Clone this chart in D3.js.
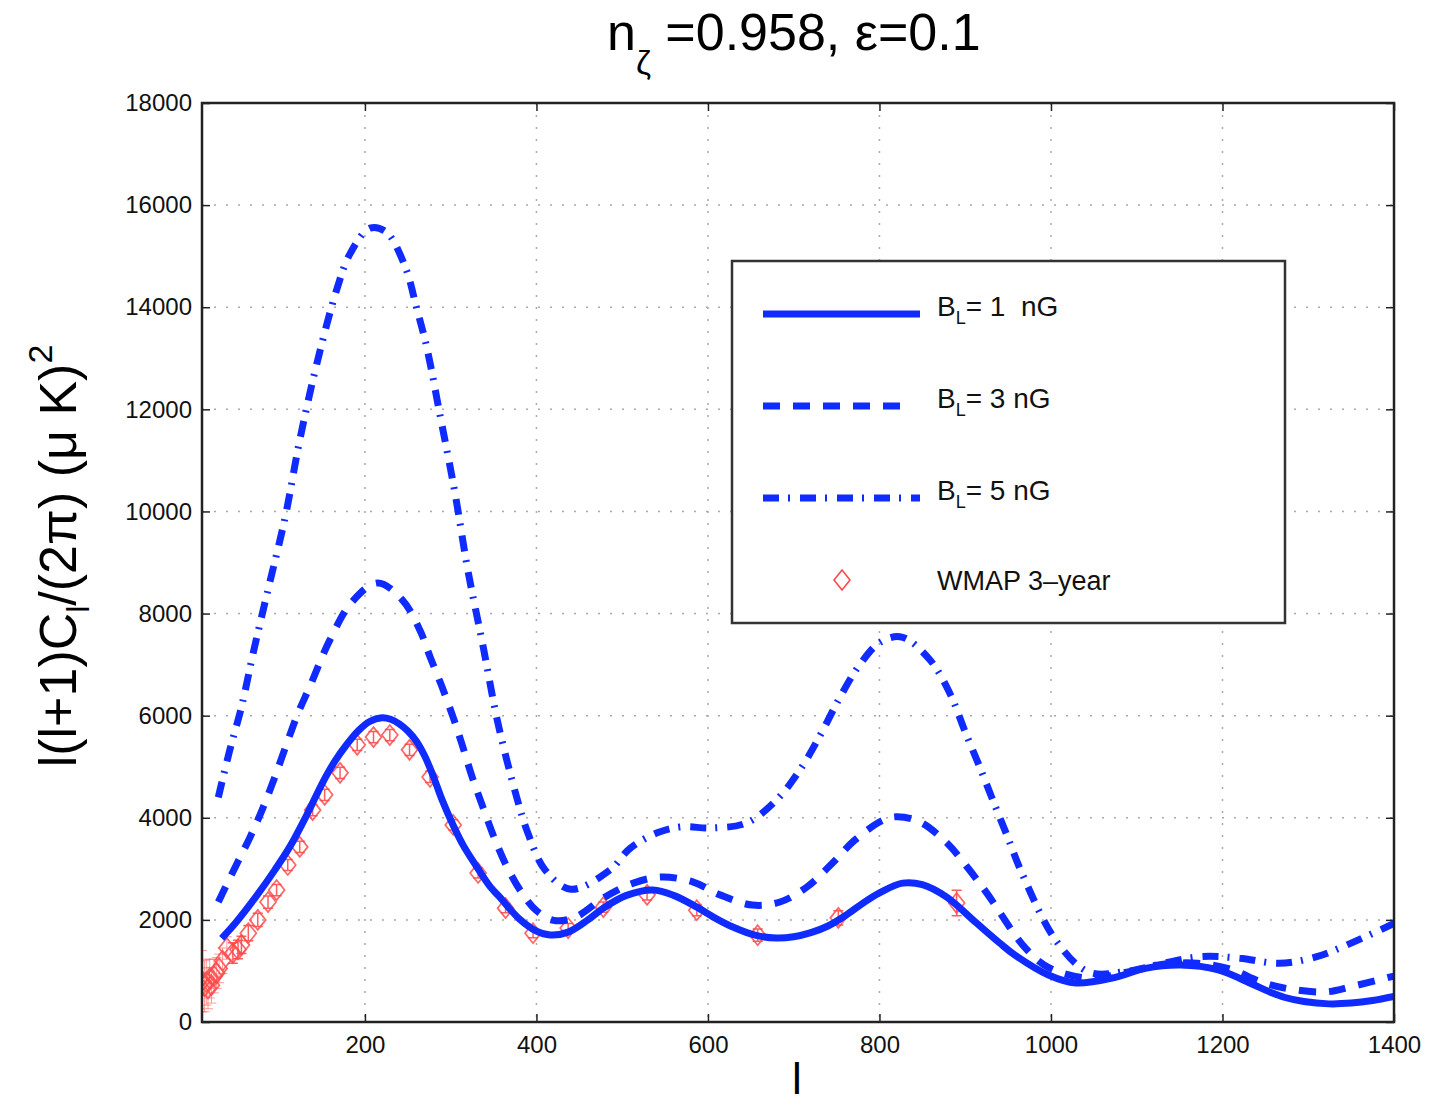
<!DOCTYPE html>
<meta charset="utf-8">
<style>
    html, body { margin: 0; padding: 0; background: #fff; }
    svg { font-family: "Liberation Sans", Arial, Helvetica, sans-serif; }
</style>
<svg id="chart" width="1430" height="1105"></svg>
<script src="https://d3js.org/d3.v7.min.js"></script>
<script>
    // curves: [l, l(l+1)C_l/2pi]
    const b1nG = [[33,1640],[50,1960],[74,2480],[95,2980],[113,3450],[132,4050],[151,4700],[165,5110],[179,5440],
        [192,5700],[205,5880],[220,5960],[230,5930],[240,5840],[250,5700],[260,5500],[270,5200],[280,4800],[290,4350],
        [303,3850],[315,3450],[330,3050],[346,2650],[357,2450],[380,2020],[400,1780],[416,1704],[437,1760],[460,2000],
        [478,2230],[505,2480],[536,2585],[560,2480],[587,2250],[610,2020],[629,1860],[655,1700],[680,1645],[700,1670],
        [720,1750],[740,1880],[760,2080],[780,2320],[800,2530],[827,2720],[850,2690],[878,2450],[913,1940],[940,1550],
        [958,1310],[997,920],[1029,764],[1076,880],[1110,1050],[1151,1116],[1195,1020],[1235,740],[1255,590],
        [1273,480],[1295,400],[1324,355],[1350,370],[1375,420],[1400,500]];

    const b3nG = [[29,2350],[34,2525],[51,3110],[66,3620],[80,4150],[95,4800],[109,5460],[122,6050],[136,6580],
        [159,7480],[185,8230],[215,8600],[244,8260],[264,7680],[276,7150],[290,6560],[303,5960],[313,5450],[325,4800],
        [338,4190],[351,3600],[365,3060],[383,2530],[400,2180],[420,1990],[445,2050],[480,2450],[513,2720],[546,2840],
        [583,2740],[614,2490],[652,2290],[684,2350],[715,2640],[745,3110],[771,3560],[804,3950],[820,4020],[847,3920],
        [879,3500],[902,3040],[925,2530],[970,1450],[998,1060],[1044,860],[1084,960],[1131,1130],[1171,1150],
        [1210,1030],[1246,780],[1281,640],[1321,590],[1352,700],[1400,900]];

    const b5nG = [[29,4400],[42,5300],[56,6170],[70,7250],[86,8400],[107,9890],[124,11400],[144,12900],[167,14340],
        [183,15060],[206,15550],[225,15470],[247,14790],[260,14000],[272,13220],[288,11850],[305,10360],[320,8850],
        [338,7340],[355,5860],[377,4400],[390,3700],[410,2980],[440,2600],[486,2980],[509,3400],[540,3700],[567,3820],
        [606,3800],[645,3900],[680,4350],[707,4930],[731,5620],[752,6300],[775,6950],[801,7440],[826,7540],[859,7090],
        [882,6440],[900,5680],[917,4990],[933,4310],[950,3600],[966,2920],[1006,1590],[1044,980],[1088,990],
        [1131,1150],[1175,1280],[1220,1250],[1266,1150],[1310,1280],[1352,1560],[1400,1930]];

    // WMAP 3-year band powers: l, value, error
    const wmapL = [10,13,15,17,19,21,24,27,30,34,39,46,52,56,64,75,87,97,110,124,139,153,171,191,210,229,252,276,
        303,332,364,396,437,478,529,587,658,752,890];
    const wmapV = [800,700,780,660,850,720,900,960,1050,1200,1450,1350,1420,1510,1740,2000,2350,2585,3075,3430,4150,
        4450,4880,5430,5580,5620,5330,4800,3860,2920,2230,1740,1840,2250,2490,2190,1700,2040,2330];
    const wmapErr = [600,500,450,400,380,350,330,300,280,250,220,200,180,170,150,130,120,110,110,110,110,110,110,110,
        110,110,110,110,100,100,90,90,90,100,100,110,120,140,250];

    const xTicks = [200,400,600,800,1000,1200,1400];
    const yTicks = [0,2000,4000,6000,8000,10000,12000,14000,16000,18000];

    const legendLabels = ["1 ", "3", "5"];

    const blue = "#0f2bff", red = "#ff4a4a";
    const svg = d3.select("#chart");
    const pLeft = 202, pRight = 1394, pTop = 103, pBottom = 1022;

    const x = d3.scaleLinear().domain([10, 1400]).range([pLeft, pRight]);
    const y = d3.scaleLinear().domain([0, 18000]).range([pBottom, pTop]);

    svg.append("clipPath").attr("id", "plot")
        .append("rect").attr("x", pLeft).attr("y", pTop).attr("width", pRight - pLeft).attr("height", pBottom - pTop);

    // dotted grid
    const grid = svg.append("g").attr("stroke", "#a8a8a8").attr("stroke-width", 1.5).attr("stroke-dasharray", "2 10");
    grid.selectAll(".gx").data(xTicks.filter(t => t < 1400)).join("line")
        .attr("x1", d => x(d)).attr("x2", d => x(d)).attr("y1", pTop).attr("y2", pBottom);
    grid.selectAll(".gy").data(yTicks.filter(t => t > 0 && t < 18000)).join("line")
        .attr("x1", pLeft).attr("x2", pRight).attr("y1", d => y(d)).attr("y2", d => y(d));

    // axes with inward ticks, box on
    const ax = svg.append("g");
    ax.append("g").attr("transform", `translate(0,${pBottom})`)
        .call(d3.axisBottom(x).tickValues(xTicks).tickSizeInner(-8).tickSizeOuter(0).tickPadding(14).tickFormat(d3.format("d")))
        .call(g => g.select(".domain").remove());
    ax.append("g").attr("transform", `translate(0,${pTop})`)
        .call(d3.axisTop(x).tickValues(xTicks).tickSizeInner(-8).tickSizeOuter(0).tickFormat(""))
        .call(g => g.select(".domain").remove());
    ax.append("g").attr("transform", `translate(${pLeft},0)`)
        .call(d3.axisLeft(y).tickValues(yTicks).tickSizeInner(-8).tickSizeOuter(0).tickPadding(10).tickFormat(d3.format("d")))
        .call(g => g.select(".domain").remove());
    ax.append("g").attr("transform", `translate(${pRight},0)`)
        .call(d3.axisRight(y).tickValues(yTicks).tickSizeInner(-8).tickSizeOuter(0).tickFormat(""))
        .call(g => g.select(".domain").remove());
    ax.selectAll(".tick line").attr("stroke", "#222").attr("stroke-width", 1.5);
    ax.selectAll(".tick text").attr("font-size", 24).attr("fill", "#111")
        .attr("font-family", "'Liberation Sans', Arial, sans-serif");

    // WMAP points
    const pts = svg.append("g").attr("clip-path", "url(#plot)").attr("stroke", red).attr("fill", "none");
    const wmap = wmapL.map((l, i) => ({ l: l, v: wmapV[i], e: wmapErr[i] }));
    pts.selectAll(".err").data(wmap).join("path")
        .attr("stroke-width", d => d.e > 200 && d.l < 100 ? 1 : 1.5)
        .attr("opacity", d => d.e > 200 && d.l < 100 ? 0.55 : 0.9)
        .attr("d", d => {
            const cx = x(d.l), y0 = y(d.v - d.e), y1 = y(d.v + d.e);
            return `M${cx},${y0}V${y1}M${cx - 5},${y0}H${cx + 5}M${cx - 5},${y1}H${cx + 5}`;
        });
    const diamond = (cx, cy) => `M${cx},${cy - 10}L${cx + 8},${cy}L${cx},${cy + 10}L${cx - 8},${cy}Z`;
    pts.selectAll(".pt").data(wmap).join("path")
        .attr("stroke-width", 1.7).attr("opacity", 0.85)
        .attr("d", d => diamond(x(d.l), y(d.v)));

    // model curves
    const line = d3.line().x(d => x(d[0])).y(d => y(d[1])).curve(d3.curveCatmullRom.alpha(0.5));
    const styles = [
        { data: b1nG, dash: null },
        { data: b3nG, dash: "17 13" },
        { data: b5nG, dash: "16 9 2 10" }
    ];
    const curves = svg.append("g").attr("clip-path", "url(#plot)");
    curves.selectAll("path").data(styles).join("path")
        .attr("d", d => line(d.data))
        .attr("fill", "none").attr("stroke", blue).attr("stroke-width", 7)
        .attr("stroke-dasharray", d => d.dash);

    // axes box
    svg.append("rect").attr("x", pLeft).attr("y", pTop).attr("width", pRight - pLeft).attr("height", pBottom - pTop)
        .attr("fill", "none").attr("stroke", "#222").attr("stroke-width", 2.5);

    // legend
    const lg = svg.append("g");
    lg.append("rect").attr("x", 732).attr("y", 261).attr("width", 553).attr("height", 362)
        .attr("fill", "#fff").attr("stroke", "#333").attr("stroke-width", 2.5);
    const rows = [314, 406, 498];
    const lens = [157, 147, 157];
    styles.forEach((s, i) => {
        lg.append("line").attr("x1", 763).attr("x2", 763 + lens[i]).attr("y1", rows[i]).attr("y2", rows[i])
            .attr("stroke", blue).attr("stroke-width", 7).attr("stroke-dasharray", s.dash);
        const t = lg.append("text").attr("x", 937).attr("y", rows[i] + 2).attr("font-size", 28).attr("fill", "#111")
            .attr("xml:space", "preserve");
        t.append("tspan").text("B");
        t.append("tspan").attr("font-size", 18).attr("dy", 8).text("L");
        t.append("tspan").attr("dy", -8).text("= " + legendLabels[i] + " nG");
    });
    lg.append("path").attr("d", diamond(842, 580)).attr("fill", "none").attr("stroke", red).attr("stroke-width", 1.6);
    lg.append("text").attr("x", 937).attr("y", 590).attr("font-size", 27).attr("fill", "#111").text("WMAP 3\u2013year");

    // title
    const title = svg.append("text").attr("x", 607).attr("y", 50).attr("font-size", 52).attr("fill", "#000");
    title.append("tspan").text("n");
    title.append("tspan").attr("font-size", 34).attr("dy", 24).text("ζ");
    title.append("tspan").attr("dy", -24).text(" =0.958, ε=0.1");

    // axis labels
    svg.append("text").attr("x", 797).attr("y", 1094).attr("text-anchor", "middle").attr("font-size", 44).text("l");
    const yl = svg.append("text").attr("transform", "translate(76,556) rotate(-90)")
        .attr("text-anchor", "middle").attr("font-size", 52).attr("fill", "#000");
    yl.append("tspan").text("l(l+1)C");
    yl.append("tspan").attr("font-size", 32).attr("dy", 13).text("l");
    yl.append("tspan").attr("dy", -13).text("/(2π) (μ K)");
    yl.append("tspan").attr("font-size", 34).attr("dy", -24).text("2");
</script>
